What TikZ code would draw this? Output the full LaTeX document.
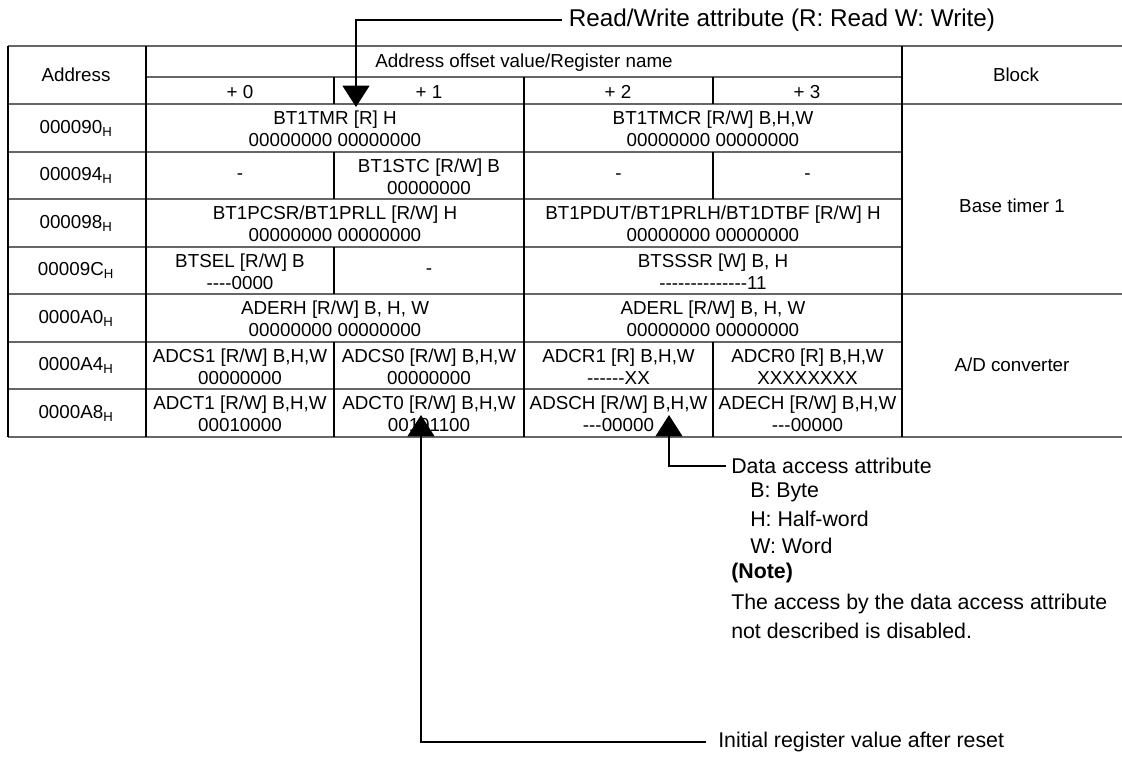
\documentclass[tikz,border=0pt]{standalone}
\usepackage{fontspec}
\setmainfont{Liberation Sans}[Ligatures=TeXOff]
\usetikzlibrary{arrows.meta}
\tikzset{>=latex}

\begin{document}
\begin{tikzpicture}[x=0.75pt,y=-0.75pt,
    every node/.style={font=\fontsize{14.1}{16.5}\selectfont,align=center,inner sep=0pt},
    hrule/.style={line width=0.8pt,black!60},
    vrule/.style={line width=0.8pt,black},
    note/.style={anchor=west,align=left,inner xsep=3.75pt,font=\fontsize{16}{19}\selectfont},
    callout/.style={-{Triangle[width=20pt,length=16pt]},line width=1.7pt}]
  \useasboundingbox (0,0) rectangle (1122,776);

  % limits
  \def\xa{8}    % left edge
  \def\xb{146}  % address | +0
  \def\xc{334}  % +0 | +1
  \def\xd{524}  % +1 | +2
  \def\xe{713}  % +2 | +3
  \def\xf{902}  % +3 | block
  \def\xg{1122} % right edge
  \def\h{47.5}  % row height

  % help functions

        % register cell between two column lines, row counted from 0
  \def\reg(#1,#2,#3,#4,#5){\node (#1) at ({(#2+#3)/2},{129+\h*#4}) {#5};}

  % horizontal rules
  \draw[hrule] (\xa,46) -- (\xg,46);
  \draw[hrule] (\xb,77) -- (\xf,77);
  \foreach \y in {104,294,437}
    \draw[hrule] (\xa,\y) -- (\xg,\y);
  \foreach \y in {152,199,247,342,389}
    \draw[hrule] (\xa,\y) -- (\xf,\y);

  % vertical rules
  \foreach \x in {\xa,\xb,\xf}
    \draw[vrule] (\x,46) -- (\x,437);
  \draw[vrule] (\xd,77) -- (\xd,437);
  \foreach \x/\ya/\yb in {\xc/77/104,\xc/152/199,\xc/247/294,\xc/342/437,
                          \xe/77/104,\xe/152/199,\xe/342/437}
    \draw[vrule] (\x,\ya) -- (\x,\yb);

  % HEADER
    \node (addr) at (76,75) {Address};
    \node (offset) at (524,63) {Address offset value/Register name};
    \foreach \i in {0,...,3}
      \node (plus\i) at ({240+189*\i},92) {+ \i};
    \node (block) at (1016,75) {Block};

  % ADDRESSES
    \foreach \a [count=\r from 0] in {000090,000094,000098,00009C,0000A0,0000A4,0000A8}
      \node (a\a) at (76,{128+\h*\r}) {\a\textsubscript{H}};

  % REGISTERS
    %BASE TIMER 1
        \reg(tmr,\xb,\xd,0,BT1TMR [R] H\\00000000 00000000)
        \reg(tmcr,\xd,\xf,0,BT1TMCR [R/W] B,H,W\\00000000 00000000)
        \reg(nilA,\xb,\xc,1,-)
        \reg(stc,\xc,\xd,1,BT1STC [R/W] B\\00000000)
        \reg(nilB,\xd,\xe,1,-)
        \reg(nilC,\xe,\xf,1,-)
        \reg(pcsr,\xb,\xd,2,BT1PCSR/BT1PRLL [R/W] H\\00000000 00000000)
        \reg(pdut,\xd,\xf,2,BT1PDUT/BT1PRLH/BT1DTBF [R/W] H\\00000000 00000000)
        \reg(btsel,\xb,\xc,3,BTSEL [R/W] B\\----0000)
        \reg(nilD,\xc,\xd,3,-)
        \reg(btsssr,\xd,\xf,3,BTSSSR [W] B{,} H\\--------------11)
    %A/D CONVERTER
        \reg(aderh,\xb,\xd,4,ADERH [R/W] B{,} H{,} W\\00000000 00000000)
        \reg(aderl,\xd,\xf,4,ADERL [R/W] B{,} H{,} W\\00000000 00000000)
        \reg(adcsa,\xb,\xc,5,ADCS1 [R/W] B{,}H{,}W\\00000000)
        \reg(adcsb,\xc,\xd,5,ADCS0 [R/W] B{,}H{,}W\\00000000)
        \reg(adcra,\xd,\xe,5,ADCR1 [R] B{,}H{,}W\\------XX)
        \reg(adcrb,\xe,\xf,5,ADCR0 [R] B{,}H{,}W\\XXXXXXXX)
        \reg(adcta,\xb,\xc,6,ADCT1 [R/W] B{,}H{,}W\\00010000)
        \reg(adctb,\xc,\xd,6,ADCT0 [R/W] B{,}H{,}W\\00101100)
        \reg(adsch,\xd,\xe,6,ADSCH [R/W] B{,}H{,}W\\---00000)
        \reg(adech,\xe,\xf,6,ADECH [R/W] B{,}H{,}W\\---00000)

  % BLOCKS
    \node (base) at (1012,206) {Base timer 1};
    \node (adc) at (1012,365) {A/D converter};

  % ATTRIBUTES
    \node[note,inner xsep=5pt,font=\fontsize{18.2}{20}\selectfont] (rwtxt) at (562,20)
      {Read/Write attribute (R: Read W: Write)};
    \coordinate (rwtip) at (356,107);
    \draw[callout] (rwtxt.west) -| (rwtip);

    \node[note] (datatxt) at (726,466) {Data access attribute};
    \node[note] (byte) at (745,492) {B: Byte};
    \node[note] (half) at (745,519) {H: Half-word};
    \node[note] (word) at (745,546) {W: Word};
    \node[note] (note) at (726,573) {\bfseries (Note)};
    \node[note] (notea) at (726,604) {The access by the data access attribute};
    \node[note] (noteb) at (726,631) {not described is disabled.};
    \coordinate (datatip) at (669,415);
    \draw[callout] (datatxt.west) -| (datatip);

    \node[note,inner xsep=9pt] (inittxt) at (706,742) {Initial register value after reset};
    \coordinate (inittip) at (421,415);
    \draw[callout] (inittxt.west) -| (inittip);

\end{tikzpicture}
\end{document}
